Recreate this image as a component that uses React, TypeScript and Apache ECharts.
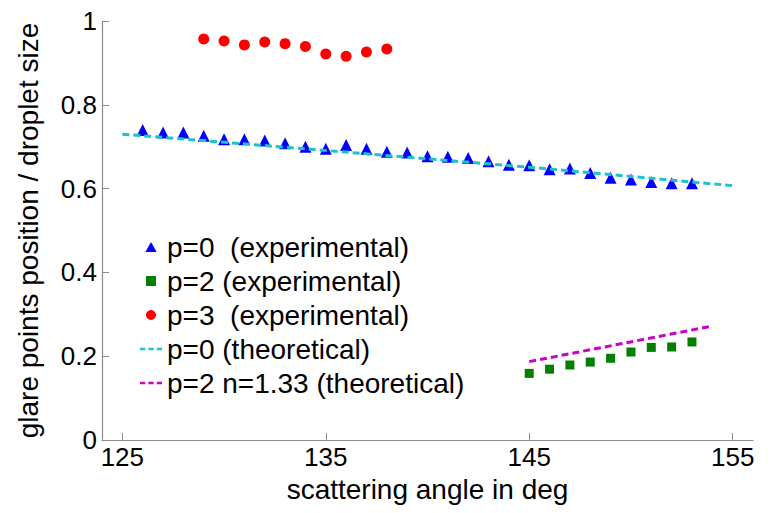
import React, { useEffect, useRef } from "react";
import * as echarts from "echarts";

const FONT = "'Liberation Sans', Arial, Helvetica, sans-serif";

const xTicks = [125, 135, 145, 155];
const yTicks = [0, 0.2, 0.4, 0.6, 0.8, 1];

const p0Angles = [126, 127, 128, 129, 130, 131, 132, 133, 134, 135, 136, 137, 138, 139, 140, 141, 142, 143, 144, 145, 146, 147, 148, 149, 150, 151, 152, 153];
const p0Values = [0.740, 0.734, 0.734, 0.726, 0.718, 0.718, 0.715, 0.708, 0.700, 0.695, 0.704, 0.695, 0.688, 0.686, 0.677, 0.676, 0.673, 0.665, 0.657, 0.656, 0.646, 0.648, 0.637, 0.626, 0.622, 0.616, 0.613, 0.613];

const p2Angles = [145, 146, 147, 148, 149, 150, 151, 152, 153];
const p2Values = [0.159, 0.169, 0.179, 0.186, 0.195, 0.210, 0.221, 0.222, 0.234];

const p3Angles = [129, 130, 131, 132, 133, 134, 135, 136, 137, 138];
const p3Values = [0.957, 0.952, 0.943, 0.950, 0.946, 0.939, 0.921, 0.916, 0.926, 0.933];

const p0TheoAngles = [125, 135, 145, 155];
const p0TheoValues = [0.730, 0.691, 0.651, 0.607];

const p2TheoAngles = [145, 154];
const p2TheoValues = [0.187, 0.272];

const names = [
  "p=0  (experimental)",
  "p=2 (experimental)",
  "p=3  (experimental)",
  "p=0 (theoretical)",
  "p=2 n=1.33 (theoretical)",
];

const zip = (xs: number[], ys: number[]) => xs.map((x, i) => [x, ys[i]]);

const dashIcon = "path://M0,0h5v2.2h-5z M8,0h5v2.2h-5z M16,0h5v2.2h-5z";
const triIcon = "path://M4.5,0L9,8H0Z";
const sqIcon = "path://M0,0h7v7h-7z";
const circIcon = "path://M4.5,0A4.5,4.5,0,1,1,4.49,0Z";

export default function App() {
  const ref = useRef<HTMLDivElement>(null);
  useEffect(() => {
    if (!ref.current) return;
    const chart = echarts.init(ref.current, undefined, { renderer: "svg" });
    const axisLineColor = "#8c8c8c";
    chart.setOption({
      animation: false,
      backgroundColor: "#ffffff",
      textStyle: { fontFamily: FONT },
      grid: { left: 102, right: 17, top: 21, bottom: 73, containLabel: false },
      xAxis: {
        type: "value",
        min: 124,
        max: 156,
        name: "scattering angle in deg",
        nameLocation: "middle",
        nameGap: 35,
        nameTextStyle: { fontSize: 28, color: "#000", fontFamily: FONT },
        axisLine: { show: true, lineStyle: { color: axisLineColor, width: 1.2 } },
        axisTick: { show: true, inside: true, length: 7, customValues: xTicks, lineStyle: { color: axisLineColor } },
        axisLabel: { customValues: xTicks, fontSize: 26, color: "#000", margin: 4, fontFamily: FONT },
        splitLine: { show: false },
      },
      yAxis: {
        type: "value",
        min: 0,
        max: 1,
        interval: 0.2,
        name: "glare points position / droplet size",
        nameLocation: "middle",
        nameGap: 60,
        nameTextStyle: { fontSize: 28, color: "#000", fontFamily: FONT },
        axisLine: { show: true, lineStyle: { color: axisLineColor, width: 1.2 } },
        axisTick: { show: true, inside: true, length: 7, customValues: yTicks, lineStyle: { color: axisLineColor } },
        axisLabel: { customValues: yTicks, fontSize: 26, color: "#000", margin: 5, fontFamily: FONT },
        splitLine: { show: false },
      },
      legend: {
        orient: "vertical",
        left: 135,
        top: 228,
        itemWidth: 22,
        itemHeight: 10,
        itemGap: 6,
        textStyle: { fontSize: 28, color: "#000", fontFamily: FONT, lineHeight: 28 },
        data: [
          { name: names[0], icon: triIcon },
          { name: names[1], icon: sqIcon },
          { name: names[2], icon: circIcon },
          { name: names[3], icon: dashIcon },
          { name: names[4], icon: dashIcon },
        ],
      },
      series: [
        {
          name: names[0],
          type: "scatter",
          symbol: "triangle",
          symbolSize: 12,
          itemStyle: { color: "#0000ff", opacity: 1 },
          data: zip(p0Angles, p0Values),
        },
        {
          name: names[1],
          type: "scatter",
          symbol: "rect",
          symbolSize: 9,
          itemStyle: { color: "#007f00", opacity: 1 },
          data: zip(p2Angles, p2Values),
        },
        {
          name: names[2],
          type: "scatter",
          symbol: "circle",
          symbolSize: 11,
          itemStyle: { color: "#ff0000", opacity: 1 },
          data: zip(p3Angles, p3Values),
        },
        {
          name: names[3],
          type: "line",
          symbol: "none",
          itemStyle: { color: "#1cc3c8" },
          lineStyle: { color: "#1cc3c8", width: 3, type: [7, 4] },
          data: zip(p0TheoAngles, p0TheoValues),
        },
        {
          name: names[4],
          type: "line",
          symbol: "none",
          itemStyle: { color: "#cc00cc" },
          lineStyle: { color: "#cc00cc", width: 3, type: [7, 4] },
          data: zip(p2TheoAngles, p2TheoValues),
        },
      ],
    });
    return () => chart.dispose();
  }, []);
  return <div ref={ref} style={{ width: 770, height: 513, position: "absolute", left: 0, top: 0 }} />;
}
